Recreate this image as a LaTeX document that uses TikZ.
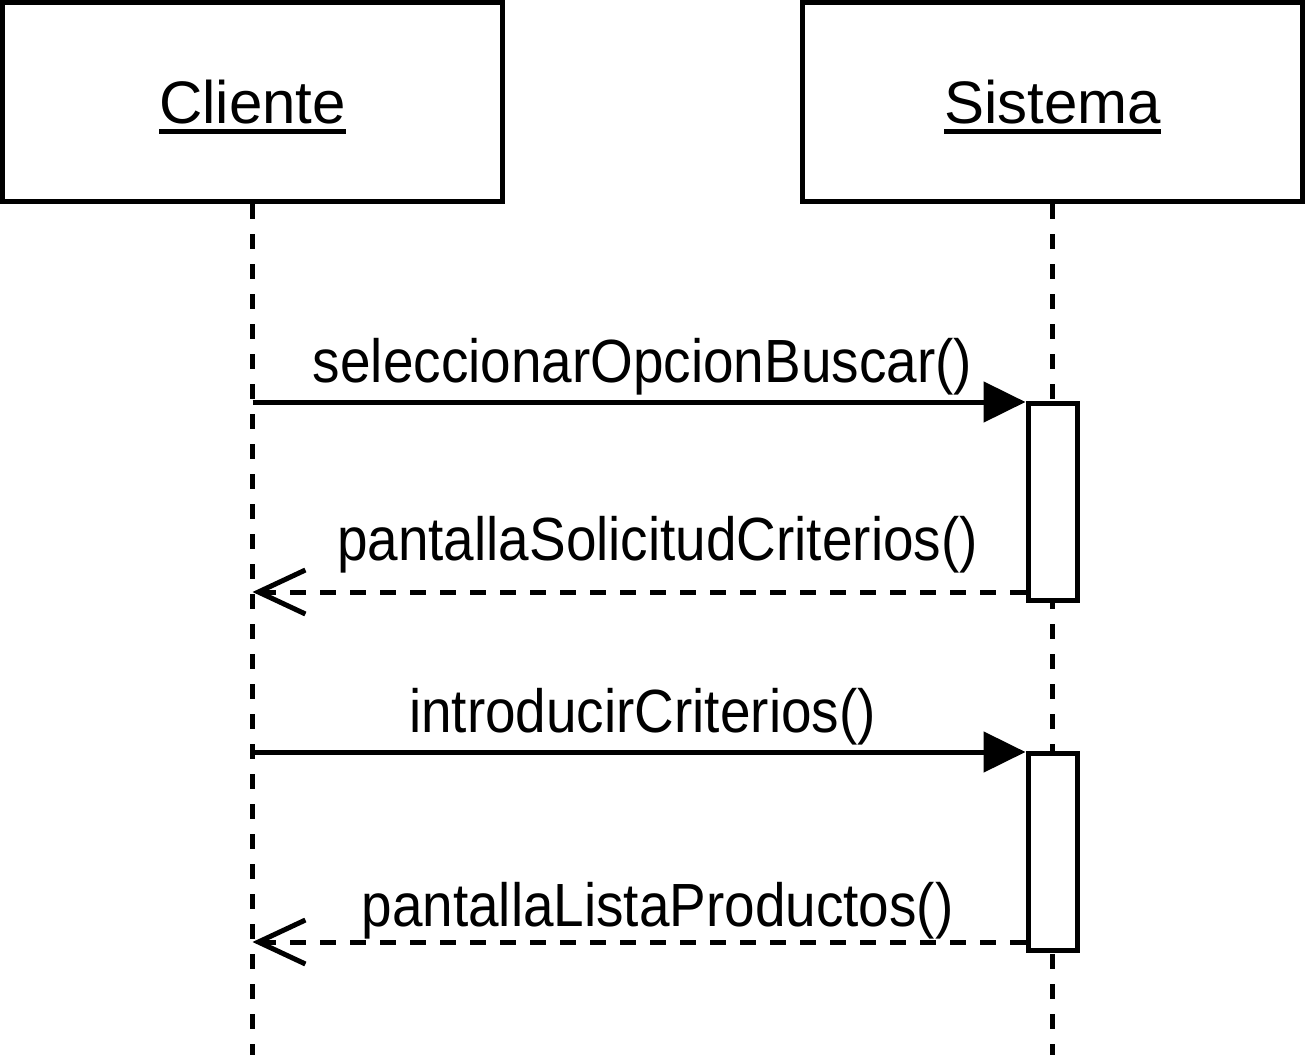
\documentclass[tikz,border=0pt]{standalone}
\usepackage{fontspec}
\setmainfont{Liberation Sans}
\newfontfamily\msgfont[FakeStretch=0.9]{Liberation Sans}
\usetikzlibrary{arrows.meta}
\newcommand\objname[1]{\setbox0\hbox{#1}\rlap{\vrule height -5pt depth 10pt width \wd0}\box0}
\tikzset{
  obj/.style={draw,minimum width=500pt,minimum height=199pt,inner sep=0pt,
    text height=43pt,text depth=0pt,font=\fontsize{60}{72}\selectfont},
  act/.style={draw,fill=white,minimum width=49pt,minimum height=197pt,inner sep=0pt},
  life/.style={dash pattern=on 15pt off 15pt},
  call/.style={-{Triangle[length=42pt,width=40pt]}},
  reply/.style={dash pattern=on 16pt off 14pt,-{Straight Barb[length=47pt,width=44pt]}},
  msg/.style={anchor=base,inner sep=0pt,font=\msgfont\fontsize{61}{73}\selectfont}
}
\begin{document}
\begin{tikzpicture}[x=1pt,y=-1pt,line width=5pt]
      \useasboundingbox (0,0) rectangle (1305,1055);
      \coordinate (cend) at (252.5,1055);
      \coordinate (send) at (1052.5,1055);
      \coordinate (c1) at (252.5,402);
      \coordinate (r1) at (252.5,592);
      \coordinate (c2) at (252.5,752);
      \coordinate (r2) at (252.5,942);
      \node[obj] (cli) at (252.5,102) {\objname{Cliente}};
      \node[obj] (sis) at (1052.5,102) {\objname{Sistema}};
      \draw[life] (cli.south) -- (cend);
      \draw[life] (sis.south) -- (send);
      \node[act] (act1) at (1052.5,501.5) {};
      \node[act] (act2) at (1052.5,851.5) {};
      \node[msg] (l1) at (642.5,382) {seleccionarOpcionBuscar()};
      \node[msg] (l2) at (657.5,560) {pantallaSolicitudCriterios()};
      \node[msg] (l3) at (642.5,732) {introducirCriterios()};
      \node[msg] (l4) at (657.5,926) {pantallaListaProductos()};
      \draw[call] (c1) -- (act1.west |- c1);
      \draw[reply] (act1.west |- r1) -- (r1);
      \draw[call] (c2) -- (act2.west |- c2);
      \draw[reply] (act2.west |- r2) -- (r2);
    \end{tikzpicture}
\end{document}
